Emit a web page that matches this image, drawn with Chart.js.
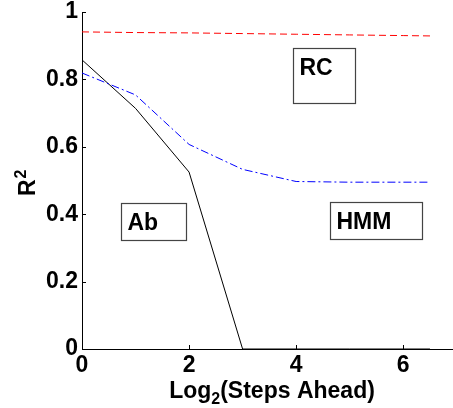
<!DOCTYPE html>
<html>
<head>
<meta charset="utf-8">
<script src="https://cdn.jsdelivr.net/npm/chart.js@4"></script>
<style>
    html, body { margin: 0; padding: 0; background: #fff; overflow: hidden; }
    #wrap { width: 453px; height: 408px; position: relative; }
</style>
</head>
<body>
<div id="wrap"><canvas id="chart"></canvas></div>
<script>
const stepsX = [0, 1, 2, 3, 4, 5, 6, 6.5];
const rcValues = [0.941, 0.939, 0.938, 0.936, 0.934, 0.932, 0.930, 0.929];
const hmmValues = [0.819, 0.754, 0.607, 0.533, 0.497, 0.495, 0.495, 0.495];
const abValues = [0.858, 0.714, 0.525, 0, 0, 0, 0, 0];
const xTicks = [0, 2, 4, 6];
const yTicks = [0, 0.2, 0.4, 0.6, 0.8, 1];

// text boxes: [label, x0, x1, y0 (top), y1 (bottom)] in data units
const boxes = [
    ['RC', 3.94, 5.10, 0.893, 0.730],
    ['Ab', 0.73, 1.94, 0.433, 0.323],
    ['HMM', 4.64, 6.36, 0.436, 0.326],
];

const FONT = 'Arial, "Liberation Sans", sans-serif';

function toPoints(values) {
    return stepsX.map((x, i) => ({ x, y: values[i] }));
}

const decorations = {
    id: 'decorations',
    afterDraw(chart) {
        const { ctx, chartArea, scales } = chart;
        const xs = scales.x;
        const ys = scales.y;
        ctx.save();
        ctx.strokeStyle = '#000';
        ctx.lineWidth = 1;
        // inward ticks
        yTicks.forEach((v) => {
            const py = Math.round(ys.getPixelForValue(v)) + 0.5;
            ctx.beginPath();
            ctx.moveTo(chartArea.left, py);
            ctx.lineTo(chartArea.left + 4, py);
            ctx.stroke();
        });
        xTicks.forEach((v) => {
            const px = Math.round(xs.getPixelForValue(v)) + 0.5;
            ctx.beginPath();
            ctx.moveTo(px, chartArea.bottom);
            ctx.lineTo(px, chartArea.bottom - 4);
            ctx.stroke();
        });

        // label boxes
        boxes.forEach(([label, x0, x1, y0, y1]) => {
            const left = Math.round(xs.getPixelForValue(x0)) + 0.5;
            const right = Math.round(xs.getPixelForValue(x1)) + 0.5;
            const top = Math.round(ys.getPixelForValue(y0)) + 0.5;
            const bottom = Math.round(ys.getPixelForValue(y1)) + 0.5;
            ctx.fillStyle = '#fff';
            ctx.fillRect(left, top, right - left, bottom - top);
            ctx.strokeStyle = '#444';
            ctx.lineWidth = 1.2;
            ctx.strokeRect(left, top, right - left, bottom - top);
            ctx.fillStyle = '#000';
            ctx.font = 'bold 23px ' + FONT;
            ctx.textAlign = 'left';
            ctx.textBaseline = 'alphabetic';
            ctx.fillText(label, left + 6, top + 26);
        });

        // y title R^2
        ctx.fillStyle = '#000';
        ctx.save();
        ctx.translate(35, 196);
        ctx.rotate(-Math.PI / 2);
        ctx.font = 'bold 23px ' + FONT;
        ctx.textAlign = 'left';
        ctx.fillText('R', 0, 0);
        const rw = ctx.measureText('R').width;
        ctx.font = 'bold 16px ' + FONT;
        ctx.fillText('2', rw + 1, -9);
        ctx.restore();

        // x title Log_2(Steps Ahead)
        ctx.font = 'bold 23px ' + FONT;
        const part1 = 'Log';
        const part3 = '(Steps Ahead)';
        const w1 = ctx.measureText(part1).width;
        const w3 = ctx.measureText(part3).width;
        ctx.font = 'bold 16px ' + FONT;
        const w2 = ctx.measureText('2').width;
        const total = w1 + w2 + w3;
        const tx = 272 - total / 2;
        const ty = 398;
        ctx.textAlign = 'left';
        ctx.font = 'bold 23px ' + FONT;
        ctx.fillText(part1, tx, ty);
        ctx.font = 'bold 16px ' + FONT;
        ctx.fillText('2', tx + w1, ty + 6);
        ctx.font = 'bold 23px ' + FONT;
        ctx.fillText(part3, tx + w1 + w2, ty);
        ctx.restore();
    },
};

new Chart(document.getElementById('chart'), {
    type: 'line',
    data: {
        datasets: [
            {
                label: 'RC',
                data: toPoints(rcValues),
                borderColor: '#ff0000',
                borderWidth: 1,
                borderDash: [7, 4],
                pointRadius: 0,
                clip: false,
            },
            {
                label: 'HMM',
                data: toPoints(hmmValues),
                borderColor: '#0000ff',
                borderWidth: 1,
                borderDash: [8, 3, 2, 3],
                pointRadius: 0,
                clip: false,
            },
            {
                label: 'Ab',
                data: toPoints(abValues),
                borderColor: '#000000',
                borderWidth: 1,
                pointRadius: 0,
                clip: false,
            },
        ],
    },
    options: {
        responsive: true,
        maintainAspectRatio: false,
        animation: false,
        layout: { padding: { top: 12, right: 0, left: 0, bottom: 0 } },
        plugins: { legend: { display: false }, tooltip: { enabled: false } },
        scales: {
            x: {
                type: 'linear',
                min: 0,
                max: 6.93,
                afterFit: (scale) => {
                    scale.height = 59;
                    scale.paddingLeft = 0;
                    scale.paddingRight = 0;
                },
                afterBuildTicks: (scale) => { scale.ticks = xTicks.map((v) => ({ value: v })); },
                grid: { display: false, drawTicks: false },
                border: { display: true, color: '#000', width: 1 },
                ticks: {
                    padding: 3,
                    color: '#000',
                    font: { family: FONT, size: 23, weight: 'bold' },
                    callback: (v) => String(v),
                    maxRotation: 0,
                },
            },
            y: {
                type: 'linear',
                min: 0,
                max: 1,
                afterFit: (scale) => {
                    scale.width = 82;
                    scale.paddingTop = 0;
                    scale.paddingBottom = 0;
                },
                afterBuildTicks: (scale) => { scale.ticks = yTicks.map((v) => ({ value: v })); },
                grid: { display: false, drawTicks: false },
                border: { display: true, color: '#000', width: 1 },
                ticks: {
                    padding: 4,
                    color: '#000',
                    font: { family: FONT, size: 23, weight: 'bold' },
                    callback: (v) => String(Math.round(v * 10) / 10),
                },
            },
        },
    },
    plugins: [decorations],
});
</script>
</body>
</html>
